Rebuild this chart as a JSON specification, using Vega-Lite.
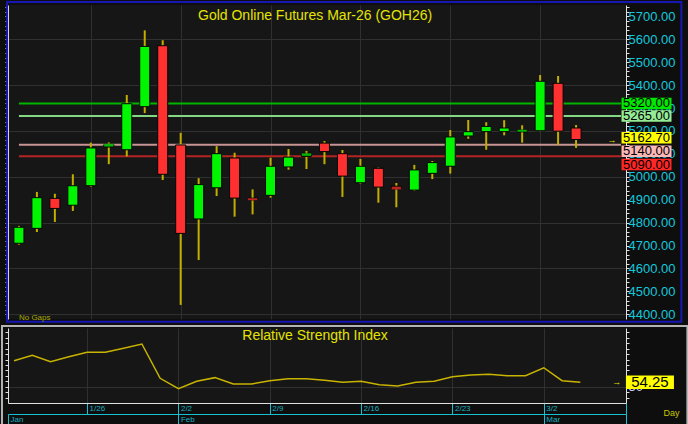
{
  "$schema": "https://vega.github.io/schema/vega-lite/v6.json",
  "background": "#0e0e0e",
  "padding": {"left": 0, "top": 0, "right": 0, "bottom": 0},
  "spacing": 1,
  "datasets": {
    "ohlc": [
      {"d": "1/20", "i": 0, "o": 4710, "h": 4786, "l": 4704, "c": 4780, "rsi": 73.9},
      {"d": "1/21", "i": 1, "o": 4775, "h": 4934, "l": 4759, "c": 4909, "rsi": 78.8},
      {"d": "1/22", "i": 2, "o": 4906, "h": 4926, "l": 4803, "c": 4862, "rsi": 73.0},
      {"d": "1/23", "i": 3, "o": 4876, "h": 5011, "l": 4851, "c": 4961, "rsi": 77.5},
      {"d": "1/26", "i": 4, "o": 4961, "h": 5149, "l": 4957, "c": 5126, "rsi": 81.5},
      {"d": "1/27", "i": 5, "o": 5130, "h": 5150, "l": 5055, "c": 5139, "rsi": 81.5},
      {"d": "1/28", "i": 6, "o": 5118, "h": 5357, "l": 5089, "c": 5319, "rsi": 85.2},
      {"d": "1/29", "i": 7, "o": 5306, "h": 5639, "l": 5278, "c": 5569, "rsi": 89.1},
      {"d": "1/30", "i": 8, "o": 5572, "h": 5596, "l": 4986, "c": 5011, "rsi": 57.9},
      {"d": "2/2", "i": 9, "o": 5139, "h": 5192, "l": 4441, "c": 4753, "rsi": 48.5},
      {"d": "2/3", "i": 10, "o": 4816, "h": 4994, "l": 4637, "c": 4966, "rsi": 55.2},
      {"d": "2/4", "i": 11, "o": 4952, "h": 5134, "l": 4916, "c": 5101, "rsi": 58.5},
      {"d": "2/5", "i": 12, "o": 5082, "h": 5105, "l": 4826, "c": 4907, "rsi": 52.7},
      {"d": "2/6", "i": 13, "o": 4906, "h": 4945, "l": 4836, "c": 4902, "rsi": 52.7},
      {"d": "2/9", "i": 14, "o": 4919, "h": 5083, "l": 4909, "c": 5046, "rsi": 55.7},
      {"d": "2/10", "i": 15, "o": 5043, "h": 5121, "l": 5031, "c": 5086, "rsi": 57.5},
      {"d": "2/11", "i": 16, "o": 5089, "h": 5113, "l": 5034, "c": 5098, "rsi": 57.5},
      {"d": "2/12", "i": 17, "o": 5147, "h": 5156, "l": 5055, "c": 5110, "rsi": 56.1},
      {"d": "2/13", "i": 18, "o": 5101, "h": 5117, "l": 4912, "c": 5003, "rsi": 54.3},
      {"d": "2/16", "i": 19, "o": 4974, "h": 5078, "l": 4970, "c": 5046, "rsi": 55.2},
      {"d": "2/17", "i": 20, "o": 5037, "h": 5040, "l": 4887, "c": 4955, "rsi": 52.1},
      {"d": "2/18", "i": 21, "o": 4959, "h": 4973, "l": 4867, "c": 4949, "rsi": 50.9},
      {"d": "2/19", "i": 22, "o": 4942, "h": 5052, "l": 4938, "c": 5030, "rsi": 54.3},
      {"d": "2/20", "i": 23, "o": 5015, "h": 5069, "l": 4990, "c": 5062, "rsi": 55.2},
      {"d": "2/23", "i": 24, "o": 5046, "h": 5204, "l": 5014, "c": 5174, "rsi": 59.4},
      {"d": "2/24", "i": 25, "o": 5178, "h": 5248, "l": 5166, "c": 5197, "rsi": 60.9},
      {"d": "2/25", "i": 26, "o": 5197, "h": 5238, "l": 5118, "c": 5220, "rsi": 61.5},
      {"d": "2/26", "i": 27, "o": 5197, "h": 5247, "l": 5181, "c": 5213, "rsi": 60.3},
      {"d": "2/27", "i": 28, "o": 5197, "h": 5225, "l": 5149, "c": 5201, "rsi": 60.3},
      {"d": "3/2", "i": 29, "o": 5201, "h": 5444, "l": 5199, "c": 5417, "rsi": 67.5},
      {"d": "3/3", "i": 30, "o": 5408, "h": 5440, "l": 5140, "c": 5199, "rsi": 55.7},
      {"d": "3/4", "i": 31, "o": 5213, "h": 5226, "l": 5126, "c": 5162.7, "rsi": 54.25}
    ],
    "levels": [
      {"kind": "r2", "v": 5320},
      {"kind": "r1", "v": 5265},
      {"kind": "s1", "v": 5140},
      {"kind": "s2", "v": 5090}
    ]
  },
  "vconcat": [
    {
      "width": 618,
      "height": 314,
      "data": {"name": "ohlc"},
      "resolve": {"axis": {"x": "independent", "y": "independent"}},
      "layer": [
        {
          "data": {"values": [{"frame": "price"}]},
          "mark": {"type": "rect", "fill": "transparent", "stroke": "#1616b4", "strokeWidth": 2, "clip": false},
          "encoding": {
            "x": {"datum": -0.66, "type": "quantitative", "scale": {"domain": [-0.33, 33.5], "nice": false, "zero": false}, "axis": null},
            "x2": {"datum": 36.86},
            "y": {"datum": 5763, "type": "quantitative", "scale": {"domain": [4379.5, 5749.7], "nice": false, "zero": false}, "axis": null},
            "y2": {"datum": 4367}
          }
        },
        {
          "data": {"name": "levels"},
          "mark": {"type": "rule", "strokeWidth": 2},
          "encoding": {
            "x": {"datum": 0, "type": "quantitative", "axis": null},
            "x2": {"datum": 33.5},
            "y": {"field": "v", "type": "quantitative", "axis": null},
            "color": {"field": "kind", "type": "nominal", "legend": null,
              "scale": {"domain": ["r2", "r1", "s1", "s2"], "range": ["#00b400", "#84d884", "#c89494", "#b42424"]}}
          }
        },
        {
          "mark": {"type": "rule", "color": "#c0ae00", "strokeWidth": 2},
          "encoding": {
            "x": {"field": "i", "type": "quantitative",
              "axis": {"orient": "bottom", "values": [4, 9, 14, 19, 24, 29], "labels": false, "ticks": false, "domain": false, "grid": true, "title": null}},
            "y": {"field": "l", "type": "quantitative",
              "axis": {"orient": "left", "title": null, "labels": false, "grid": false, "tickSize": 3,
                "values": [4400,4420,4440,4460,4480,4500,4520,4540,4560,4580,4600,4620,4640,4660,4680,4700,4720,4740,4760,4780,4800,4820,4840,4860,4880,4900,4920,4940,4960,4980,5000,5020,5040,5060,5080,5100,5120,5140,5160,5180,5200,5220,5240,5260,5280,5300,5320,5340,5360,5380,5400,5420,5440,5460,5480,5500,5520,5540,5560,5580,5600,5620,5640,5660,5680,5700,5720,5740]}},
            "y2": {"field": "h"}
          }
        },
        {
          "mark": {"type": "bar", "size": 10, "stroke": "#050505", "strokeWidth": 1},
          "encoding": {
            "x": {"field": "i", "type": "quantitative", "axis": null},
            "y": {"field": "o", "type": "quantitative",
              "axis": {"orient": "right", "title": null, "grid": true, "tickSize": 3,
                "gridOpacity": {"condition": {"test": "datum.value % 200 == 0", "value": 1}, "value": 0},
                "labelExpr": "datum.value % 100 == 0 ? format(datum.value, '.2f') : ''",
                "labelColor": "#14c8dc", "labelFontSize": 13, "labelPadding": -1, "labelOverlap": false, "labelFlush": false, "labelBound": false,
                "values": [4400,4420,4440,4460,4480,4500,4520,4540,4560,4580,4600,4620,4640,4660,4680,4700,4720,4740,4760,4780,4800,4820,4840,4860,4880,4900,4920,4940,4960,4980,5000,5020,5040,5060,5080,5100,5120,5140,5160,5180,5200,5220,5240,5260,5280,5300,5320,5340,5360,5380,5400,5420,5440,5460,5480,5500,5520,5540,5560,5580,5600,5620,5640,5660,5680,5700,5720,5740]}},
            "y2": {"field": "c"},
            "color": {"condition": {"test": "datum.c >= datum.o", "value": "#00f500"}, "value": "#ff3030"}
          }
        },
        {
          "transform": [{"filter": "abs(datum.c - datum.o) < 12"}],
          "mark": {"type": "tick", "orient": "horizontal", "size": 10, "thickness": 2.5, "stroke": "#050505", "strokeWidth": 0.5},
          "encoding": {
            "x": {"field": "i", "type": "quantitative", "axis": null},
            "y": {"field": "c", "type": "quantitative", "axis": null},
            "color": {"condition": {"test": "datum.c >= datum.o", "value": "#00f500"}, "value": "#ff3030"}
          }
        },
        {
          "data": {"values": [{"title": "Gold Online Futures Mar-26 (GOH26)"}]},
          "mark": {"type": "text", "fontSize": 14, "color": "#e4e400", "align": "center", "baseline": "middle"},
          "encoding": {
            "x": {"datum": 16.48, "type": "quantitative", "axis": null},
            "y": {"datum": 5702, "type": "quantitative", "axis": null},
            "text": {"field": "title"}
          }
        },
        {
          "data": {"values": [{"note": "No Gaps"}]},
          "mark": {"type": "text", "fontSize": 8, "color": "#a8a800", "align": "left", "baseline": "middle"},
          "encoding": {
            "x": {"datum": 0, "type": "quantitative", "axis": null},
            "y": {"datum": 4383, "type": "quantitative", "axis": null},
            "text": {"field": "note"}
          }
        },
        {
          "data": {"name": "levels"},
          "transform": [{"filter": "datum.kind == 'r2' || datum.kind == 'r1'"}],
          "layer": [
            {
              "mark": {"type": "point", "shape": "M-1,-0.23H1V0.23H-1Z", "size": 2500, "filled": true, "opacity": 1, "strokeWidth": 0, "clip": false},
              "encoding": {
                "x": {"datum": 34.92, "type": "quantitative", "axis": null},
                "y": {"field": "v", "type": "quantitative", "axis": null},
                "fill": {"field": "kind", "type": "nominal", "legend": null,
                  "scale": {"domain": ["r2", "r1", "s1", "s2"], "range": ["#00e800", "#94ec94", "#ffb8b8", "#ff2626"]}}
              }
            },
            {
              "mark": {"type": "text", "fontSize": 13, "color": "#000000", "align": "center", "baseline": "middle", "clip": false},
              "encoding": {
                "x": {"datum": 34.92, "type": "quantitative", "axis": null},
                "y": {"field": "v", "type": "quantitative", "axis": null},
                "text": {"field": "v", "format": ".2f"}
              }
            }
          ]
        },
        {
          "data": {"name": "levels"},
          "transform": [{"filter": "datum.kind == 's1'"}],
          "layer": [
            {
              "mark": {"type": "point", "shape": "M-1,-0.23H1V0.23H-1Z", "size": 2500, "filled": true, "opacity": 1, "strokeWidth": 0, "yOffset": 6.6, "clip": false},
              "encoding": {
                "x": {"datum": 34.92, "type": "quantitative", "axis": null},
                "y": {"field": "v", "type": "quantitative", "axis": null},
                "fill": {"field": "kind", "type": "nominal", "legend": null,
                  "scale": {"domain": ["r2", "r1", "s1", "s2"], "range": ["#00e800", "#94ec94", "#ffb8b8", "#ff2626"]}}
              }
            },
            {
              "mark": {"type": "text", "fontSize": 13, "color": "#000000", "align": "center", "baseline": "middle", "yOffset": 6.6, "clip": false},
              "encoding": {
                "x": {"datum": 34.92, "type": "quantitative", "axis": null},
                "y": {"field": "v", "type": "quantitative", "axis": null},
                "text": {"field": "v", "format": ".2f"}
              }
            }
          ]
        },
        {
          "data": {"name": "levels"},
          "transform": [{"filter": "datum.kind == 's2'"}],
          "layer": [
            {
              "mark": {"type": "point", "shape": "M-1,-0.23H1V0.23H-1Z", "size": 2500, "filled": true, "opacity": 1, "strokeWidth": 0, "yOffset": 8.4, "clip": false},
              "encoding": {
                "x": {"datum": 34.92, "type": "quantitative", "axis": null},
                "y": {"field": "v", "type": "quantitative", "axis": null},
                "fill": {"field": "kind", "type": "nominal", "legend": null,
                  "scale": {"domain": ["r2", "r1", "s1", "s2"], "range": ["#00e800", "#94ec94", "#ffb8b8", "#ff2626"]}}
              }
            },
            {
              "mark": {"type": "text", "fontSize": 13, "color": "#000000", "align": "center", "baseline": "middle", "yOffset": 8.4, "clip": false},
              "encoding": {
                "x": {"datum": 34.92, "type": "quantitative", "axis": null},
                "y": {"field": "v", "type": "quantitative", "axis": null},
                "text": {"field": "v", "format": ".2f"}
              }
            }
          ]
        },
        {
          "transform": [{"filter": "datum.i == 31"}],
          "layer": [
            {
              "mark": {"type": "point", "shape": "M-1,-0.23H1V0.23H-1Z", "size": 2500, "filled": true, "opacity": 1, "strokeWidth": 0, "fill": "#ffff00", "yOffset": -1.7, "clip": false},
              "encoding": {
                "x": {"datum": 34.92, "type": "quantitative", "axis": null},
                "y": {"field": "c", "type": "quantitative", "axis": null}
              }
            },
            {
              "mark": {"type": "text", "fontSize": 13, "color": "#000000", "align": "center", "baseline": "middle", "yOffset": -1.7, "clip": false},
              "encoding": {
                "x": {"datum": 34.92, "type": "quantitative", "axis": null},
                "y": {"field": "c", "type": "quantitative", "axis": null},
                "text": {"field": "c", "format": ".2f"}
              }
            },
            {
              "mark": {"type": "text", "fontSize": 9, "color": "#e4e400", "align": "center", "baseline": "middle", "text": "→"},
              "encoding": {
                "x": {"datum": 33.0, "type": "quantitative", "axis": null},
                "y": {"field": "c", "type": "quantitative", "axis": null}
              }
            }
          ]
        }
      ]
    },
    {
      "width": 618,
      "height": 75,
      "data": {"name": "ohlc"},
      "resolve": {"axis": {"x": "independent", "y": "independent"}},
      "layer": [
        {
          "data": {"values": [{"frame": "rsi"}]},
          "mark": {"type": "rect", "fill": "transparent", "stroke": "#b4b4b4", "strokeWidth": 2, "clip": false},
          "encoding": {
            "x": {"datum": -0.66, "type": "quantitative", "scale": {"domain": [-0.33, 33.5], "nice": false, "zero": false}, "axis": null},
            "x2": {"datum": 36.86},
            "y": {"datum": 105.46, "type": "quantitative", "scale": {"domain": [35.45, 103.64], "nice": false, "zero": false}, "axis": null},
            "y2": {"datum": 15.45}
          }
        },
        {
          "mark": {"type": "line", "color": "#c8b400", "strokeWidth": 1.5},
          "encoding": {
            "x": {"field": "i", "type": "quantitative",
              "axis": {"orient": "bottom", "title": null, "values": [4, 9, 14, 19, 24, 29, 33.5], "grid": true, "tickSize": 11, "tickColor": "#18c0d0", "domainColor": "#e0e0e0",
                "labelExpr": "datum.value == 4 ? '1/26' : datum.value == 9 ? '2/2' : datum.value == 14 ? '2/9' : datum.value == 19 ? '2/16' : datum.value == 24 ? '2/23' : datum.value == 29 ? '3/2' : ''",
                "labelAlign": "left", "labelBaseline": "middle", "labelPadding": -5.5, "labelOffset": 2, "labelFontSize": 8, "labelColor": "#18b0c0", "labelOverlap": false, "labelFlush": false, "labelBound": false}},
            "y": {"field": "rsi", "type": "quantitative",
              "axis": {"orient": "right", "title": null, "values": [40, 45, 50, 55, 60, 65, 70, 75, 80, 85, 90, 95, 100], "tickSize": 3, "grid": true,
                "gridOpacity": {"condition": {"test": "datum.value == 50", "value": 1}, "value": 0},
                "labelExpr": "datum.value == 50 ? '50' : ''", "labelColor": "#c8d0ff", "labelFontSize": 13, "labelPadding": -1, "labelOverlap": false, "labelFlush": false, "labelBound": false}}
          }
        },
        {
          "mark": {"type": "line", "opacity": 0},
          "encoding": {
            "x": {"field": "i", "type": "quantitative",
              "axis": {"orient": "bottom", "offset": 11, "values": [-0.33, 9, 29, 33.5], "grid": false, "tickSize": 10, "tickColor": "#18c0d0", "domainColor": "#18c0d0",
                "labelExpr": "datum.value < 0 ? 'Jan' : datum.value == 9 ? 'Feb' : datum.value == 29 ? 'Mar' : ''",
                "labelAlign": "left", "labelBaseline": "middle", "labelPadding": -5, "labelOffset": 2, "labelFontSize": 8, "labelColor": "#18b0c0", "labelOverlap": false, "labelFlush": false, "labelBound": false,
                "title": "Day", "titleX": 655, "titleY": -2, "titleAlign": "left", "titleBaseline": "middle", "titleAngle": 0, "titleColor": "#c8c800", "titleFontSize": 9, "titleFontWeight": "normal"}},
            "y": {"field": "rsi", "type": "quantitative",
              "axis": {"orient": "left", "title": null, "labels": false, "grid": false, "tickSize": 3, "values": [40, 45, 50, 55, 60, 65, 70, 75, 80, 85, 90, 95, 100]}}
          }
        },
        {
          "data": {"values": [{"title": "Relative Strength Index"}]},
          "mark": {"type": "text", "fontSize": 14, "color": "#e4e400", "align": "center", "baseline": "middle"},
          "encoding": {
            "x": {"datum": 16.48, "type": "quantitative", "axis": null},
            "y": {"datum": 96.4, "type": "quantitative", "axis": null},
            "text": {"field": "title"}
          }
        },
        {
          "transform": [{"filter": "datum.i == 31"}],
          "layer": [
            {
              "mark": {"type": "point", "shape": "M-1,-0.28H1V0.28H-1Z", "size": 2304, "filled": true, "opacity": 1, "strokeWidth": 0, "fill": "#ffff00", "clip": false},
              "encoding": {
                "x": {"datum": 34.81, "type": "quantitative", "axis": null},
                "y": {"field": "rsi", "type": "quantitative", "axis": null}
              }
            },
            {
              "mark": {"type": "text", "fontSize": 15, "color": "#000000", "align": "center", "baseline": "middle", "clip": false},
              "encoding": {
                "x": {"datum": 34.81, "type": "quantitative", "axis": null},
                "y": {"field": "rsi", "type": "quantitative", "axis": null},
                "text": {"field": "rsi", "format": ".2f"}
              }
            },
            {
              "mark": {"type": "text", "fontSize": 9, "color": "#e4e400", "align": "center", "baseline": "middle", "text": "→"},
              "encoding": {
                "x": {"datum": 33.0, "type": "quantitative", "axis": null},
                "y": {"field": "rsi", "type": "quantitative", "axis": null}
              }
            }
          ]
        }
      ]
    }
  ],
  "config": {
    "font": "Liberation Sans",
    "view": {"fill": "#161616", "stroke": null},
    "axis": {"gridColor": "#303030", "gridWidth": 1, "domainColor": "#e0e0e0", "tickColor": "#e0e0e0", "labelFont": "Liberation Sans"}
  }
}
